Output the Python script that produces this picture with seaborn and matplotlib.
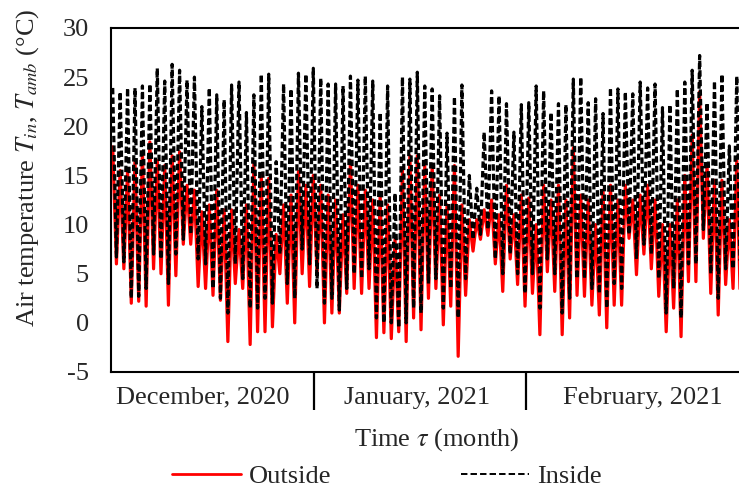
import numpy as np
import pandas as pd
import matplotlib
matplotlib.use("Agg")
import matplotlib.pyplot as plt
import matplotlib.transforms as mtransforms
import seaborn as sns

# Daily extremes (°C), one value per day, December 2020 - February 2021
inside_max = [
    # December
    23.9, 23.5, 23.9, 23.9, 24.1, 24.3, 25.9, 24.6, 26.3, 25.7, 24.7, 25.0, 22.0, 23.9,
    23.2, 22.7, 24.2, 24.5, 21.4, 23.2, 25.3, 25.3, 16.4, 24.3, 23.8, 25.4, 25.3,
    # January
    25.9, 24.9, 24.3, 24.3, 24.1, 25.1, 24.7, 25.1, 24.6, 21.4, 24.1, 13.2, 25.0, 24.8,
    25.5, 24.1, 23.8, 23.1, 19.3, 23.0, 24.2, 15.0, 13.7, 19.4, 23.6, 23.1, 22.3, 19.4, 22.2,
    # February
    22.4, 24.1, 23.6, 21.4, 22.3, 22.2, 24.8, 25.0, 22.4, 22.8, 21.3, 23.9, 23.8, 23.5,
    23.3, 24.5, 23.9, 24.3, 21.9, 22.2, 23.8, 24.5, 25.7, 27.2, 22.4, 24.6, 25.3, 18.0, 25.1,
]
inside_min = [
    6.7, 6.2, 2.5, 2.7, 3.5, 7.0, 6.5, 4.0, 7.0, 8.5, 9.0, 6.5, 6.0, 3.5,
    2.5, 1.0, 6.0, 4.5, 1.5, 1.5, 2.5, 2.0, 7.0, 4.0, 2.5, 7.5, 6.0,
    3.5, 2.0, 2.5, 1.3, 3.5, 5.0, 4.5, 5.5, 0.5, 0.0, 0.0, -0.5, 0.0, 1.5,
    1.0, 4.0, 4.5, 1.5, 3.5, 0.5, 4.5, 8.5, 9.0, 9.5, 6.5, 5.0, 7.0, 5.0, 3.0,
    5.0, 1.5, 6.5, 5.0, 1.0, 2.5, 4.5, 4.5, 3.5, 3.0, 1.5, 4.0, 3.5, 9.0,
    6.5, 8.0, 7.0, 4.5, 1.0, 3.5, 0.5, 6.0, 6.0, 9.5, 5.0, 2.5, 5.5, 5.5, 3.5,
]
outside_max = [
    17.9, 15.5, 15.5, 16.5, 17.4, 18.4, 16.5, 16.0, 17.0, 17.4, 14.0, 13.5, 11.3, 12.0,
    13.5, 11.5, 11.5, 9.5, 12.0, 16.2, 15.0, 14.7, 9.0, 12.0, 13.0, 15.4, 14.0,
    15.0, 14.0, 13.0, 12.5, 11.0, 16.5, 14.0, 13.5, 12.5, 13.0, 12.0, 8.5, 15.5, 17.0,
    17.0, 16.0, 16.0, 13.0, 12.0, 16.0, 12.0, 10.5, 10.5, 11.5, 12.5, 11.0, 14.0, 11.0, 13.0,
    12.7, 10.0, 14.0, 12.5, 14.0, 12.5, 17.8, 13.0, 12.5, 10.0, 13.5, 14.0, 12.5, 14.0,
    12.5, 13.0, 14.0, 12.5, 10.0, 10.0, 12.5, 15.0, 19.1, 23.5, 16.0, 14.5, 14.5, 10.5, 16.5,
]
outside_min = [
    6.0, 5.5, 2.0, 2.2, 1.7, 5.5, 5.0, 1.8, 4.8, 8.0, 8.0, 3.7, 3.5, 2.8,
    2.3, -1.9, 4.0, 3.5, -2.2, -0.9, -0.9, -0.4, 5.0, 2.0, 0.0, 5.0, 3.7,
    5.0, 0.0, 1.0, 1.0, 3.0, 3.5, 3.0, 3.5, -1.5, -1.0, -1.6, -0.9, -1.9, 0.5,
    -0.7, 2.5, 3.5, -0.2, 1.7, -3.4, 2.8, 7.3, 8.5, 8.9, 6.0, 3.2, 6.5, 3.9, 1.7,
    3.0, -1.2, 5.2, 3.2, -1.2, 0.5, 2.8, 2.7, 1.8, 0.8, -0.5, 1.8, 1.8, 8.6,
    4.9, 7.0, 5.5, 2.7, -0.9, 1.5, -1.4, 4.2, 4.2, 8.6, 3.0, 0.8, 3.9, 3.5, 1.5,
]

months = ["December, 2020", "January, 2021", "February, 2021"]
month_bounds = [27.6, 56.1]        # day positions of the month separators
month_centres = [12.65, 41.45, 71.87]
y_ticks = [-5, 0, 5, 10, 15, 20, 25, 30]

FS = 19


def daily_trace(hi, lo, name):
    day = np.arange(len(hi))
    t = np.column_stack([day + 0.5, day + 1.0]).ravel()
    v = np.column_stack([hi, lo]).ravel()
    return pd.DataFrame({"day": t, "temp": v, "series": name})


df = pd.concat([daily_trace(outside_max, outside_min, "Outside"),
                daily_trace(inside_max, inside_min, "Inside")], ignore_index=True)

sns.set_style("white")
plt.rcParams["font.family"] = ["Liberation Serif", "DejaVu Serif"]
plt.rcParams["mathtext.fontset"] = "stix"

W, H = 739, 487
fig = plt.figure(figsize=(W / 100, H / 100), dpi=100)
ax = fig.add_axes([111 / W, 1 - 372 / H, (739 - 111) / W, (372 - 28) / H])

sns.lineplot(data=df, x="day", y="temp", hue="series", style="series",
             palette={"Outside": "#ff0000", "Inside": "#000000"},
             dashes={"Outside": "", "Inside": (2.0, 1.0)},
             estimator=None, sort=False, linewidth=2.3, legend=False, ax=ax)

ax.set_xlim(0.27, 84.8)
ax.set_ylim(-5, 30)
ax.set_yticks(y_ticks)
ax.set_yticklabels([str(t) for t in y_ticks], fontsize=FS)
ax.tick_params(axis="y", length=0, pad=16)
ax.set_xticks([])
ax.set_xlabel("")
ax.set_ylabel("")

for side in ["left", "top", "bottom"]:
    ax.spines[side].set_visible(True)
    ax.spines[side].set_color("black")
    ax.spines[side].set_linewidth(1.5)
ax.spines["right"].set_visible(False)

trans = mtransforms.blended_transform_factory(ax.transData, ax.transAxes)
for b in month_bounds:
    ax.plot([b, b], [0, -0.11], transform=trans, color="black", lw=1.6,
            clip_on=False, solid_capstyle="butt")
for c, m in zip(month_centres, months):
    ax.text(c, -0.075, m, transform=trans, ha="center", va="center", fontsize=FS)

fig.text(437 / W, 1 - 440 / H, r"Time $\tau$ (month)", ha="center", va="center",
         fontsize=FS)
fig.text(28 / W, 1 - 168 / H, r"Air temperature $T_{in}$, $T_{amb}$ (°C)",
         rotation=90, ha="center", va="center", fontsize=FS)

handles = [plt.Line2D([], [], color="#ff0000", lw=2.0),
           plt.Line2D([], [], color="black", lw=1.4, dashes=(3.3, 1.6))]
fig.legend(handles, ["Outside", "Inside"], loc="center",
           bbox_to_anchor=(387 / W, 1 - 476 / H), ncol=2, frameon=False,
           fontsize=FS, handlelength=2.6, handletextpad=0.3, columnspacing=4.9,
           borderaxespad=0, borderpad=0)

fig.savefig("out.png", dpi=100)
